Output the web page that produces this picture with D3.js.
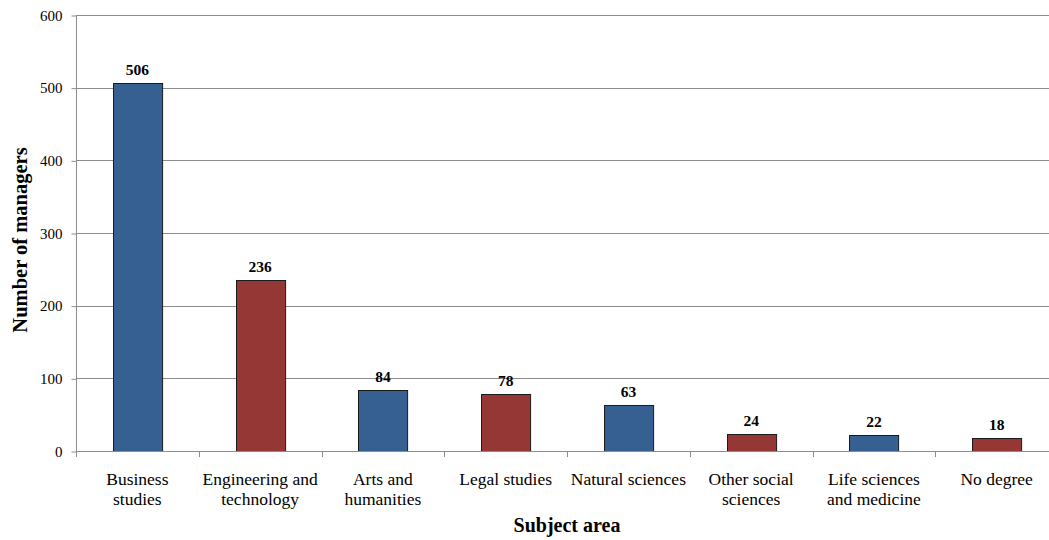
<!DOCTYPE html>
<html>
<head>
<meta charset="utf-8">
<script src="https://cdn.jsdelivr.net/npm/d3@7"></script>
<style>
  html, body { margin: 0; padding: 0; background: #fff; }
  svg { display: block; font-family: "Liberation Serif", "Times New Roman", serif; }
</style>
</head>
<body>
<svg id="chart" width="1049" height="540"></svg>
<script>
const categories = [
  ["Business", "studies"],
  ["Engineering and", "technology"],
  ["Arts and", "humanities"],
  ["Legal studies"],
  ["Natural sciences"],
  ["Other social", "sciences"],
  ["Life sciences", "and medicine"],
  ["No degree"]
];
const values = [506, 236, 84, 78, 63, 24, 22, 18];
const yTicks = [0, 100, 200, 300, 400, 500, 600];
const barColors = ["#376092", "#953735"];

const svg = d3.select("#chart");
const mLeft = 76, mRight = 1058, mTop = 15, mBottom = 451;

const x = d3.scaleBand().domain(d3.range(categories.length)).range([mLeft, mRight]).paddingInner(0.6).paddingOuter(0.3);
const xb = d3.scaleBand().domain(d3.range(categories.length)).range([mLeft, mRight]);
const y = d3.scaleLinear().domain([0, 600]).range([mBottom, mTop]);

// gridlines
svg.append("g").selectAll("line").data(yTicks.filter(d => d > 0)).join("line")
  .attr("x1", mLeft).attr("x2", 1049)
  .attr("y1", d => Math.round(y(d)) + 0.5).attr("y2", d => Math.round(y(d)) + 0.5)
  .attr("stroke", "#8c8c8c").attr("stroke-width", 1);

// y axis
const yAxis = svg.append("g").attr("transform", `translate(${mLeft + 0.5},0.5)`)
  .call(d3.axisLeft(y).tickValues(yTicks).tickSize(5).tickPadding(9));
yAxis.select(".domain").attr("stroke", "#8c8c8c").attr("d", `M0,${mTop}V${mBottom}`);
yAxis.selectAll(".tick line").attr("stroke", "#8c8c8c");
yAxis.selectAll(".tick text").attr("font-size", "15px").attr("fill", "#000")
  .attr("font-family", "Liberation Serif");

// bars
svg.append("g").selectAll("rect").data(values).join("rect")
  .attr("x", (d, i) => Math.round(x(i)) + 0.5)
  .attr("y", d => Math.round(y(d)) + 0.5)
  .attr("width", x.bandwidth())
  .attr("height", d => Math.round(y(0)) - Math.round(y(d)))
  .attr("fill", (d, i) => barColors[i % 2])
  .attr("stroke", "#1b1b1b").attr("stroke-width", 1);

// x axis
const xAxisG = svg.append("g");
xAxisG.append("line").attr("x1", mLeft).attr("x2", 1049)
  .attr("y1", Math.round(y(0)) + 0.5).attr("y2", Math.round(y(0)) + 0.5)
  .attr("stroke", "#8c8c8c");
xAxisG.selectAll("line.tk").data(d3.range(categories.length)).join("line")
  .attr("class", "tk")
  .attr("x1", i => Math.round(xb(i)) + 0.5).attr("x2", i => Math.round(xb(i)) + 0.5)
  .attr("y1", Math.round(y(0))).attr("y2", Math.round(y(0)) + 6)
  .attr("stroke", "#8c8c8c");

// value labels
svg.append("g").selectAll("text").data(values).join("text")
  .attr("x", (d, i) => x(i) + x.bandwidth() / 2)
  .attr("y", d => y(d) - 8)
  .attr("text-anchor", "middle")
  .attr("font-size", "15.5px").attr("font-weight", "bold")
  .text(d => d);

// category labels
const cl = svg.append("g").selectAll("text").data(categories).join("text")
  .attr("x", (d, i) => xb(i) + xb.bandwidth() / 2)
  .attr("y", 485)
  .attr("text-anchor", "middle")
  .attr("font-size", "17.5px");
cl.selectAll("tspan").data(d => d).join("tspan")
  .attr("x", function() { return d3.select(this.parentNode).attr("x"); })
  .attr("dy", (d, j) => j === 0 ? 0 : 19.5)
  .text(d => d);

// axis titles
svg.append("text").attr("x", 567).attr("y", 532).attr("text-anchor", "middle")
  .attr("font-size", "20px").attr("font-weight", "bold").text("Subject area");
svg.append("text").attr("transform", "translate(27,240) rotate(-90)").attr("text-anchor", "middle")
  .attr("font-size", "20.5px").attr("font-weight", "bold").text("Number of managers");
</script>
</body>
</html>
